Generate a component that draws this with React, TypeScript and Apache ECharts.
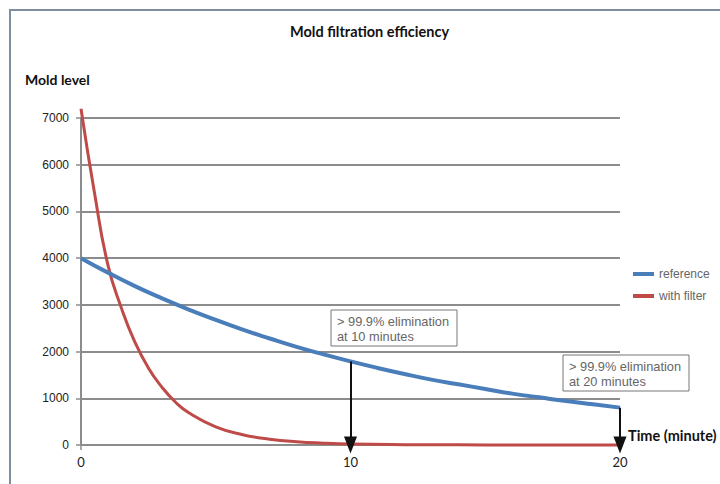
import React, { useEffect, useRef } from "react";
import * as echarts from "echarts";

const timeTicks = [0, 10, 20];
const referenceTime = [0, 1, 2, 3, 4, 5, 6, 7, 8, 9, 10, 11, 12, 13, 14, 15, 16, 17, 18, 19, 20];
const referenceLevel = [4000, 3690, 3400, 3140, 2900, 2680, 2470, 2280, 2100, 1940, 1790, 1650, 1520, 1400, 1300, 1200, 1100, 1020, 940, 870, 800];
const filterTime = [0, 0.5, 1, 1.5, 2, 2.5, 3, 3.5, 4, 5, 6, 7, 8, 9, 10, 12, 14, 16, 18, 20];
const filterLevel = [7200, 5400, 3850, 2930, 2200, 1650, 1240, 920, 690, 390, 220, 125, 70, 40, 22, 8, 3, 1, 0, 0];
const arrowTimes = [10, 20];
const arrowLevels = [1790, 800];
const annotations = [
  ["> 99.9% elimination", "at 10 minutes"],
  ["> 99.9% elimination", "at 20 minutes"],
];

export default function App() {
  const ref = useRef<HTMLDivElement>(null);
  useEffect(() => {
    document.body.style.margin = "0";
    const chart = echarts.init(ref.current!, null, { renderer: "svg" });
    const boxPos = [
      [331, 310],
      [563, 355],
    ];
    chart.setOption({
      animation: false,
      backgroundColor: "#ffffff",
      title: {
        text: "Mold filtration efficiency",
        left: 285,
        top: 19,
        textStyle: { fontFamily: "Lato", fontWeight: "bold", fontSize: 14.5, color: "#111" },
      },
      grid: { left: 81, right: 100, top: 118, bottom: 39 },
      legend: {
        orient: "vertical",
        left: 628,
        top: 263,
        itemWidth: 21,
        itemHeight: 4,
        itemGap: 10,
        icon: "rect",
        textStyle: { fontFamily: "Liberation Sans", fontSize: 12, color: "#666" },
        data: ["reference", "with filter"],
      },
      xAxis: {
        type: "value",
        min: 0,
        max: 20,
        interval: 10,
        axisLine: { lineStyle: { color: "#8c8c8c", width: 2 } },
        axisTick: { show: true, length: 5, lineStyle: { color: "#8c8c8c", width: 1.5 } },
        splitLine: { show: false },
        axisLabel: {
          margin: 10,
          fontFamily: "Lato",
          fontSize: 13,
          color: "#222",
          formatter: (v: number) => (timeTicks.includes(v) ? String(v) : ""),
        },
      },
      yAxis: {
        type: "value",
        min: 0,
        max: 7000,
        interval: 1000,
        axisLine: { show: true, lineStyle: { color: "#8c8c8c", width: 2 } },
        axisTick: { show: true, length: 5, lineStyle: { color: "#8c8c8c", width: 1.5 } },
        splitLine: { show: true, lineStyle: { color: "#8c8c8c", width: 2 } },
        axisLabel: {
          margin: 12,
          fontFamily: "Liberation Sans",
          fontSize: 12,
          color: "#222",
          formatter: (v: number) => String(v),
        },
      },
      series: [
        {
          name: "reference",
          type: "line",
          smooth: true,
          showSymbol: false,
          clip: false,
          z: 3,
          color: "#4A7EBB",
          lineStyle: { color: "#4A7EBB", width: 4 },
          data: referenceTime.map((t, i) => [t, referenceLevel[i]]),
          markLine: {
            silent: true,
            symbol: ["none", "triangle"],
            symbolSize: [13, 17],
            label: { show: false },
            lineStyle: { color: "#111", width: 2, type: "solid" },
            emphasis: { disabled: true },
            data: arrowTimes.map((t, i) => [{ coord: [t, arrowLevels[i]] }, { coord: [t, 0] }]),
          },
        },
        {
          name: "with filter",
          type: "line",
          smooth: true,
          showSymbol: false,
          clip: false,
          z: 2,
          color: "#BE4B48",
          lineStyle: { color: "#BE4B48", width: 3 },
          data: filterTime.map((t, i) => [t, filterLevel[i]]),
        },
      ],
      graphic: [
        {
          type: "rect",
          shape: { x: 10, y: 10, width: 800, height: 600 },
          style: { fill: "none", stroke: "#7f8f9f", lineWidth: 2 },
          silent: true,
        },
        {
          type: "text",
          left: 25,
          top: 72,
          style: { text: "Mold level", fontFamily: "Lato", fontWeight: "bold", fontSize: 14, fill: "#111" },
        },
        {
          type: "text",
          left: 628,
          top: 428,
          style: { text: "Time (minute)", fontFamily: "Lato", fontWeight: "bold", fontSize: 14.5, fill: "#111" },
        },
        ...annotations.map((lines, i) => ({
          type: "group",
          x: boxPos[i][0],
          y: boxPos[i][1],
          z: 10,
          children: [
            {
              type: "rect",
              shape: { x: 0, y: 0, width: 126, height: 36 },
              style: { fill: "#fff", stroke: "#777", lineWidth: 1 },
            },
            {
              type: "text",
              x: 6,
              y: 4,
              style: {
                text: lines.join("\n"),
                fontFamily: "Liberation Sans",
                fontSize: 12.8,
                lineHeight: 15,
                fill: "#666",
              },
            },
          ],
        })),
      ],
    });
    return () => chart.dispose();
  }, []);
  return <div ref={ref} style={{ width: 720, height: 484 }} />;
}
